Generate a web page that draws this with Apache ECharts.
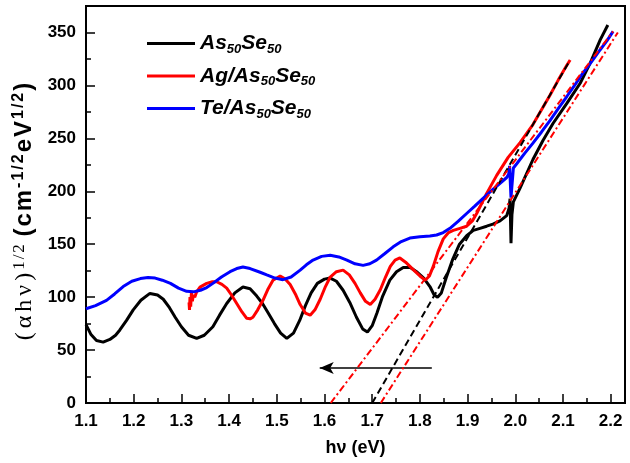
<!DOCTYPE html>
<html><head><meta charset="utf-8">
<script src="https://cdn.jsdelivr.net/npm/echarts@6/dist/echarts.min.js"></script>
<style>html,body{margin:0;padding:0;background:#fff}#c{width:630px;height:463px}</style>
</head><body><div id="c"></div>
<script>
// ---- data ----
const seriesNames = ['As50Se50', 'Ag/As50Se50', 'Te/As50Se50'];
const asSe = [[1.100,74],[1.110,65],[1.122,59],[1.136,57.5],[1.150,60],[1.162,64],[1.171,69],[1.185,78],[1.199,88],[1.215,97],[1.234,103.5],[1.250,102],[1.262,98],[1.275,90],[1.287,81],[1.300,72],[1.315,64],[1.332,61],[1.348,64],[1.366,72],[1.380,83],[1.395,94],[1.412,104],[1.429,109.5],[1.444,108],[1.458,101],[1.470,94],[1.482,85],[1.495,75],[1.508,66],[1.521,61],[1.535,66],[1.548,78],[1.560,92],[1.572,104],[1.585,113],[1.600,117],[1.612,118],[1.625,115],[1.639,106.5],[1.653,95],[1.667,81],[1.680,70],[1.690,67],[1.700,73],[1.710,85],[1.722,101],[1.737,116],[1.751,124],[1.765,128],[1.780,128],[1.793,124],[1.808,118],[1.821,110],[1.830,102],[1.837,100],[1.845,104],[1.855,118],[1.869,136],[1.883,150],[1.898,158],[1.912,163],[1.926,165],[1.940,167],[1.953,169],[1.968,172],[1.982,177],[1.987,184],[1.989,193],[1.991,151],[1.993,178],[1.996,190],[2.010,203],[2.037,230],[2.058,248],[2.079,264],[2.108,283],[2.136,302],[2.157,321],[2.178,343],[2.194,357]];
const agAsSe = [[1.316,95],[1.317,88],[1.318,100],[1.3195,91],[1.321,104],[1.323,96],[1.325,102],[1.328,100],[1.332,105],[1.339,109.5],[1.353,113],[1.365,114.5],[1.374,114.5],[1.385,112],[1.395,108.5],[1.405,102],[1.416,94],[1.427,86],[1.437,80],[1.444,79.5],[1.450,81],[1.460,88],[1.471,97],[1.482,108],[1.492,116],[1.507,120],[1.518,117],[1.528,112],[1.540,102],[1.549,93],[1.560,85],[1.570,83],[1.580,88],[1.591,98],[1.602,110],[1.612,119],[1.625,124],[1.639,125.5],[1.652,121],[1.664,113],[1.675,104],[1.686,96],[1.696,93],[1.706,98],[1.717,107],[1.728,119],[1.738,129],[1.748,135],[1.758,137],[1.770,133],[1.786,126],[1.800,120],[1.811,116],[1.820,120],[1.828,129],[1.838,143],[1.849,155],[1.860,161],[1.870,163],[1.884,165],[1.898,167],[1.910,172],[1.919,179],[1.940,198],[1.961,215],[1.985,232],[2.010,246],[2.037,263],[2.055,277],[2.073,291],[2.090,305],[2.108,319],[2.115,324]];
const teAsSe = [[1.100,89],[1.120,92],[1.143,97],[1.160,103],[1.178,110],[1.196,115],[1.214,117.5],[1.230,118.5],[1.245,118],[1.260,116],[1.277,113],[1.294,108.5],[1.311,105.5],[1.325,105],[1.340,106.5],[1.353,109],[1.366,113],[1.384,119],[1.402,124],[1.416,127],[1.429,128.5],[1.444,127],[1.465,123.5],[1.479,121],[1.496,118],[1.513,116.5],[1.530,119],[1.549,125.5],[1.562,130.5],[1.576,135],[1.594,138.5],[1.612,139.5],[1.630,138],[1.647,135],[1.664,131.5],[1.681,130],[1.695,131.5],[1.709,135],[1.726,141],[1.744,147.5],[1.761,152.5],[1.779,155.8],[1.800,157],[1.821,157.7],[1.835,158.7],[1.849,161],[1.863,165],[1.880,171.5],[1.898,179],[1.915,186],[1.933,193.5],[1.950,200.5],[1.968,207.5],[1.982,213],[1.986,216],[1.988,224],[1.991,194],[1.996,222],[2.003,226],[2.020,236],[2.037,245.5],[2.055,256],[2.073,267],[2.090,278],[2.108,289.5],[2.125,300.5],[2.142,311.8],[2.160,322.5],[2.178,333.7],[2.192,342],[2.205,351]];
const fitBlackDashed = [[1.700,0],[2.115,324]];
const fitRedLeft = [[1.613,0],[2.205,351]];
const fitRedRight = [[1.718,0],[2.215,350]];
const arrowFrom = [1.825,33];
const arrowTo = [1.590,33];
const xTickStep = 0.1, xMinorStep = 0.05, xLastLabel = 2.2;
const yTickStep = 50, yMinorStep = 25, yLastLabel = 350;
const xRange = [1.1, 2.23];
const yRange = [0, 375];

// ---- chart ----
const FONT = 'Liberation Sans, Arial, sans-serif';
const SERIF = 'Liberation Serif, Times New Roman, serif';
const chart = echarts.init(document.getElementById('c'), null, {renderer:'canvas'});
const legendRich = {
  a:{fontFamily:FONT,fontSize:21,fontWeight:'bold',fontStyle:'italic',color:'#000',lineHeight:24},
  s:{fontFamily:FONT,fontSize:13,fontWeight:'bold',fontStyle:'italic',color:'#000',lineHeight:13,verticalAlign:'bottom'}
};
function legendFmt(name){
  const m = name.match(/^(.*As)50Se50$/);
  return '{a|'+m[1]+'}{s|50}{a|Se}{s|50}';
}
// y axis title, one token per glyph so glyphs can be spaced out
function tok(style, str){ return Array.from(str).map(c=>'{'+style+'|'+c+'}').join(''); }
const yName = tok('s','(αhν)') + tok('ss','1/2') + '{g| }' + tok('b','(cm') + tok('bs','-1/2') + tok('b','eV') + tok('bs','1/2') + '{e|)}';
const yRich = {
  s:{fontFamily:SERIF,fontSize:24,color:'#000',lineHeight:28,padding:[0,2,0,2]},
  ss:{fontFamily:SERIF,fontSize:17,color:'#000',lineHeight:17,verticalAlign:'top',padding:[0,1,0,1]},
  g:{fontFamily:FONT,fontSize:20,lineHeight:28},
  b:{fontFamily:FONT,fontWeight:'bold',fontSize:24,color:'#000',lineHeight:28,padding:[0,1,0,1]},
  bs:{fontFamily:FONT,fontWeight:'bold',fontSize:16,color:'#000',lineHeight:16,verticalAlign:'top',padding:[0,1,0,1]},
  e:{fontFamily:FONT,fontWeight:'bold',fontSize:24,color:'#000',lineHeight:28,padding:[0,16,0,1]}
};
function isStep(v, step, last){ const k = v/step; return Math.abs(k-Math.round(k))<1e-6 && v <= last+1e-9; }
const baseX = {type:'value', min:xRange[0], max:xRange[1], gridIndex:0, position:'bottom', splitLine:{show:false}};
const baseY = {type:'value', min:yRange[0], max:yRange[1], gridIndex:0, position:'left', splitLine:{show:false}};
const option = {
  backgroundColor:'#fff',
  animation:false,
  grid:{left:86,right:5,top:6,bottom:60,show:true,borderColor:'#000',borderWidth:2,backgroundColor:'transparent'},
  legend:{
    orient:'vertical', left:142, top:28, itemWidth:48, itemHeight:3, itemGap:10, icon:'rect',
    data:seriesNames, formatter:legendFmt,
    textStyle:{rich:legendRich},
  },
  xAxis:[
    Object.assign({}, baseX, {
      interval:xTickStep,
      axisLine:{show:true,lineStyle:{color:'#000',width:2}},
      axisTick:{show:true,inside:true,length:9,lineStyle:{color:'#000',width:1.5}},
      axisLabel:{show:true,margin:10,color:'#000',fontFamily:FONT,fontWeight:'bold',fontSize:17,showMaxLabel:false,
        formatter:v=>isStep(v,xTickStep,xLastLabel)?Number(v).toFixed(1):''},
      name:'hν (eV)', nameLocation:'middle', nameGap:36,
      nameTextStyle:{fontFamily:FONT,fontWeight:'bold',fontSize:18,color:'#000'}
    }),
    Object.assign({}, baseX, {
      interval:xMinorStep,
      axisLine:{show:false},
      axisTick:{show:true,inside:true,length:5,lineStyle:{color:'#000',width:1.5}},
      axisLabel:{show:false}
    })
  ],
  yAxis:[
    Object.assign({}, baseY, {
      interval:yTickStep,
      axisLine:{show:true,lineStyle:{color:'#000',width:2}},
      axisTick:{show:true,inside:true,length:9,lineStyle:{color:'#000',width:1.5}},
      axisLabel:{show:true,margin:10,color:'#000',fontFamily:FONT,fontWeight:'bold',fontSize:17,showMaxLabel:false,
        formatter:v=>isStep(v,yTickStep,yLastLabel)?String(v):''},
      name:yName,
      nameLocation:'middle', nameGap:47, nameRotate:90,
      nameTextStyle:{rich:yRich}
    }),
    Object.assign({}, baseY, {
      interval:yMinorStep,
      axisLine:{show:false},
      axisTick:{show:true,inside:true,length:5,lineStyle:{color:'#000',width:1.5}},
      axisLabel:{show:false}
    })
  ],
  series:[
    {name:seriesNames[0],type:'line',data:asSe,showSymbol:false,symbol:'none',lineStyle:{color:'#000',width:3},itemStyle:{color:'#000'},z:2},
    {name:seriesNames[1],type:'line',data:agAsSe,showSymbol:false,symbol:'none',lineStyle:{color:'#ff0000',width:3},itemStyle:{color:'#ff0000'},z:3},
    {name:seriesNames[2],type:'line',data:teAsSe,showSymbol:false,symbol:'none',lineStyle:{color:'#0000ff',width:3},itemStyle:{color:'#0000ff'},z:4},
    {name:'fit1',type:'line',data:fitBlackDashed,showSymbol:false,symbol:'none',lineStyle:{color:'#000',width:2,type:[7,4]},z:5},
    {name:'fit2',type:'line',data:fitRedLeft,showSymbol:false,symbol:'none',lineStyle:{color:'#ff0000',width:2,type:[7,3,2,3]},z:5},
    {name:'fit3',type:'line',data:fitRedRight,showSymbol:false,symbol:'none',lineStyle:{color:'#ff0000',width:2,type:[7,3,2,3]},z:5,
      markLine:{silent:true,symbol:['none','arrow'],symbolSize:[9,14],label:{show:false},
        lineStyle:{color:'#000',width:1.5,type:'solid'},
        data:[[{coord:arrowFrom},{coord:arrowTo}]]}}
  ]
};
chart.setOption(option);
</script>
</body></html>
